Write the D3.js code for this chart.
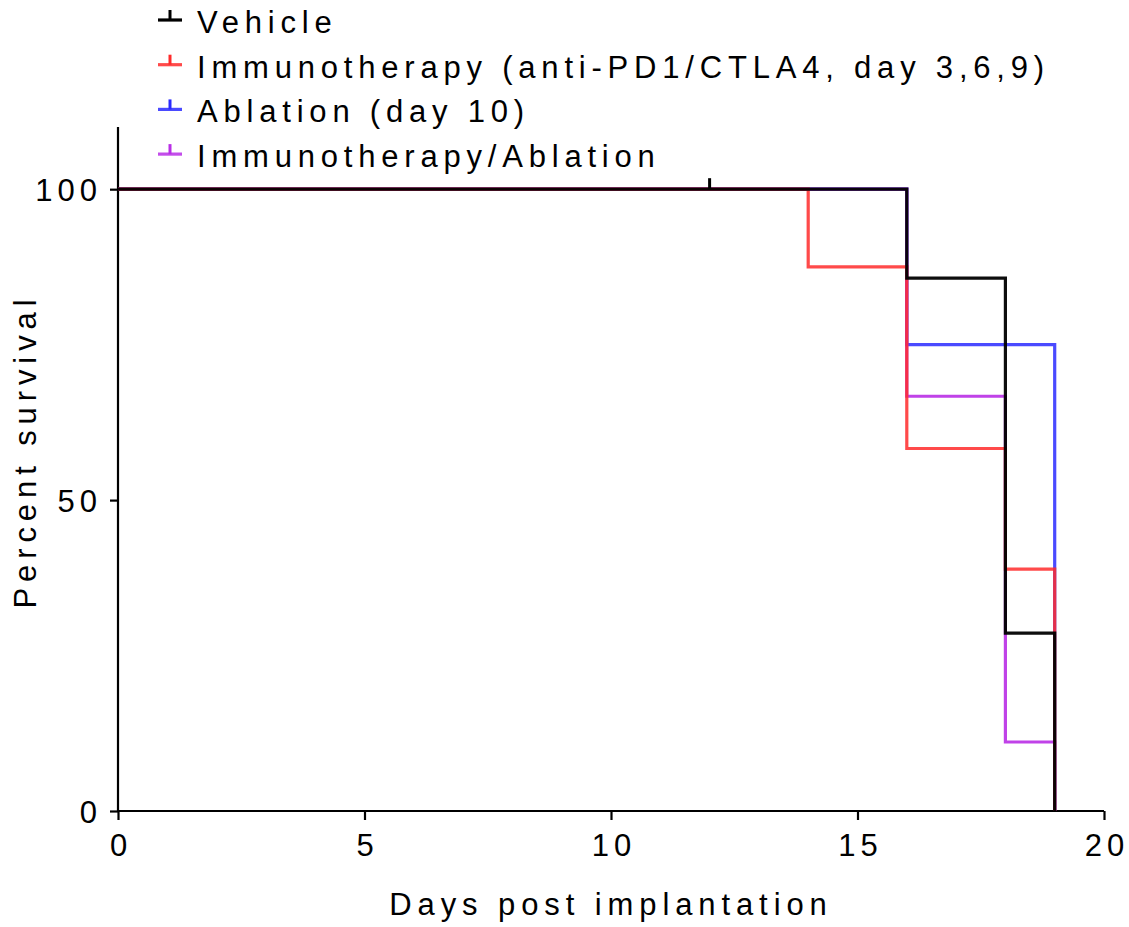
<!DOCTYPE html>
<html>
<head>
<meta charset="utf-8">
<script src="https://cdn.jsdelivr.net/npm/d3@7"></script>
<style>
  body { margin: 0; background: #fff; }
  svg text { font-family: "Liberation Sans", Arial, sans-serif; fill: #000; }
</style>
</head>
<body>
<div id="chart"></div>
<script>
// survival data (step points: day, percent)
const seriesNames = ['Vehicle', 'Immunotherapy (anti-PD1/CTLA4, day 3,6,9)', 'Ablation (day 10)', 'Immunotherapy/Ablation'];
const seriesColors = ['#000000', '#ff2a2a', '#2a2aff', '#b92ee6'];

const vehicleDays = [0, 16, 18, 19];
const vehicleSurv = [100, 85.7, 28.6, 0];
const immunoDays = [0, 14, 16, 18, 19];
const immunoSurv = [100, 87.5, 58.3, 38.9, 0];
const ablationDays = [0, 16, 19];
const ablationSurv = [100, 75, 0];
const comboDays = [0, 16, 18, 19];
const comboSurv = [100, 66.7, 11.1, 0];

// censored marks
const vehicleCensorDays = [12];
const vehicleCensorSurv = [100];

const xTicks = [0, 5, 10, 15, 20];
const yTicks = [0, 50, 100];

const W = 1129, H = 927;
const svg = d3.select('#chart').append('svg')
  .attr('width', W).attr('height', H);

const x = d3.scaleLinear().domain([0, 20]).range([118, 1104]);
const y = d3.scaleLinear().domain([0, 110]).range([811, 127]);

// axes
const xAxis = svg.append('g')
  .attr('transform', `translate(0,${y(0)})`)
  .call(d3.axisBottom(x).tickValues(xTicks).tickSize(9).tickPadding(14).tickFormat(d3.format('d')));
const yAxis = svg.append('g')
  .attr('transform', `translate(${x(0)},0)`)
  .call(d3.axisLeft(y).tickValues(yTicks).tickSize(8).tickPadding(13).tickFormat(d3.format('d')));

[xAxis, yAxis].forEach(a => {
  a.select('.domain').attr('stroke', '#000').attr('stroke-width', 2.2);
  a.selectAll('.tick line').attr('stroke', '#000').attr('stroke-width', 2.2);
  a.selectAll('.tick text')
    .style('font-family', '"Liberation Sans", Arial, sans-serif')
    .style('font-size', '31px')
    .style('letter-spacing', '5px')
    .attr('fill', '#000');
});
// domain paths without outer ticks
xAxis.select('.domain').attr('d', `M${x(0)},0H${x(20)}`);
yAxis.select('.domain').attr('d', `M0,${y(110)}V${y(0)}`);
// compensate trailing letter-spacing on the right-aligned y labels
yAxis.selectAll('.tick text').attr('dx', '5px').attr('dy', '0.36em');
xAxis.selectAll('.tick text').attr('dx', '2.5px').attr('dy', '0.72em');

// axis titles
svg.append('text')
  .attr('x', 611).attr('y', 915)
  .attr('text-anchor', 'middle')
  .style('font-size', '31px').style('letter-spacing', '5.9px')
  .text('Days post implantation');
svg.append('text')
  .attr('transform', 'translate(36,451) rotate(-90)')
  .attr('text-anchor', 'middle')
  .style('font-size', '31px').style('letter-spacing', '5.9px')
  .text('Percent survival');

// curves
const curves = [
  { days: ablationDays, surv: ablationSurv, color: seriesColors[2], op: 0.85 },
  { days: comboDays, surv: comboSurv, color: seriesColors[3], op: 0.9 },
  { days: immunoDays, surv: immunoSurv, color: seriesColors[1], op: 0.85 },
  { days: vehicleDays, surv: vehicleSurv, color: seriesColors[0], op: 0.95 }
];
const line = d3.line()
  .x(d => x(d[0])).y(d => y(d[1]))
  .curve(d3.curveStepAfter);

curves.forEach(c => {
  const pts = c.days.map((d, i) => [d, c.surv[i]]);
  svg.append('path')
    .datum(pts)
    .attr('d', line)
    .attr('fill', 'none')
    .attr('stroke', c.color)
    .attr('stroke-opacity', c.op)
    .attr('stroke-width', 3.2);
});

// censor ticks
vehicleCensorDays.forEach((d, i) => {
  svg.append('line')
    .attr('x1', x(d)).attr('x2', x(d))
    .attr('y1', y(vehicleCensorSurv[i])).attr('y2', y(vehicleCensorSurv[i]) - 11)
    .attr('stroke', '#000').attr('stroke-width', 3);
});

// legend
const legend = svg.append('g');
seriesNames.forEach((name, i) => {
  const cy = 20 + i * 44.7;
  const g = legend.append('g').attr('transform', `translate(0,${cy})`);
  g.append('line')
    .attr('x1', 158).attr('x2', 182).attr('y1', 0).attr('y2', 0)
    .attr('stroke', seriesColors[i]).attr('stroke-opacity', i ? 0.85 : 1).attr('stroke-width', 3.2);
  g.append('line')
    .attr('x1', 170).attr('x2', 170).attr('y1', 0).attr('y2', -10)
    .attr('stroke', seriesColors[i]).attr('stroke-width', 3);
  g.append('text')
    .attr('x', 197).attr('y', 13)
    .style('font-size', '31px').style('letter-spacing', '5.8px')
    .text(name);
});
</script>
</body>
</html>
